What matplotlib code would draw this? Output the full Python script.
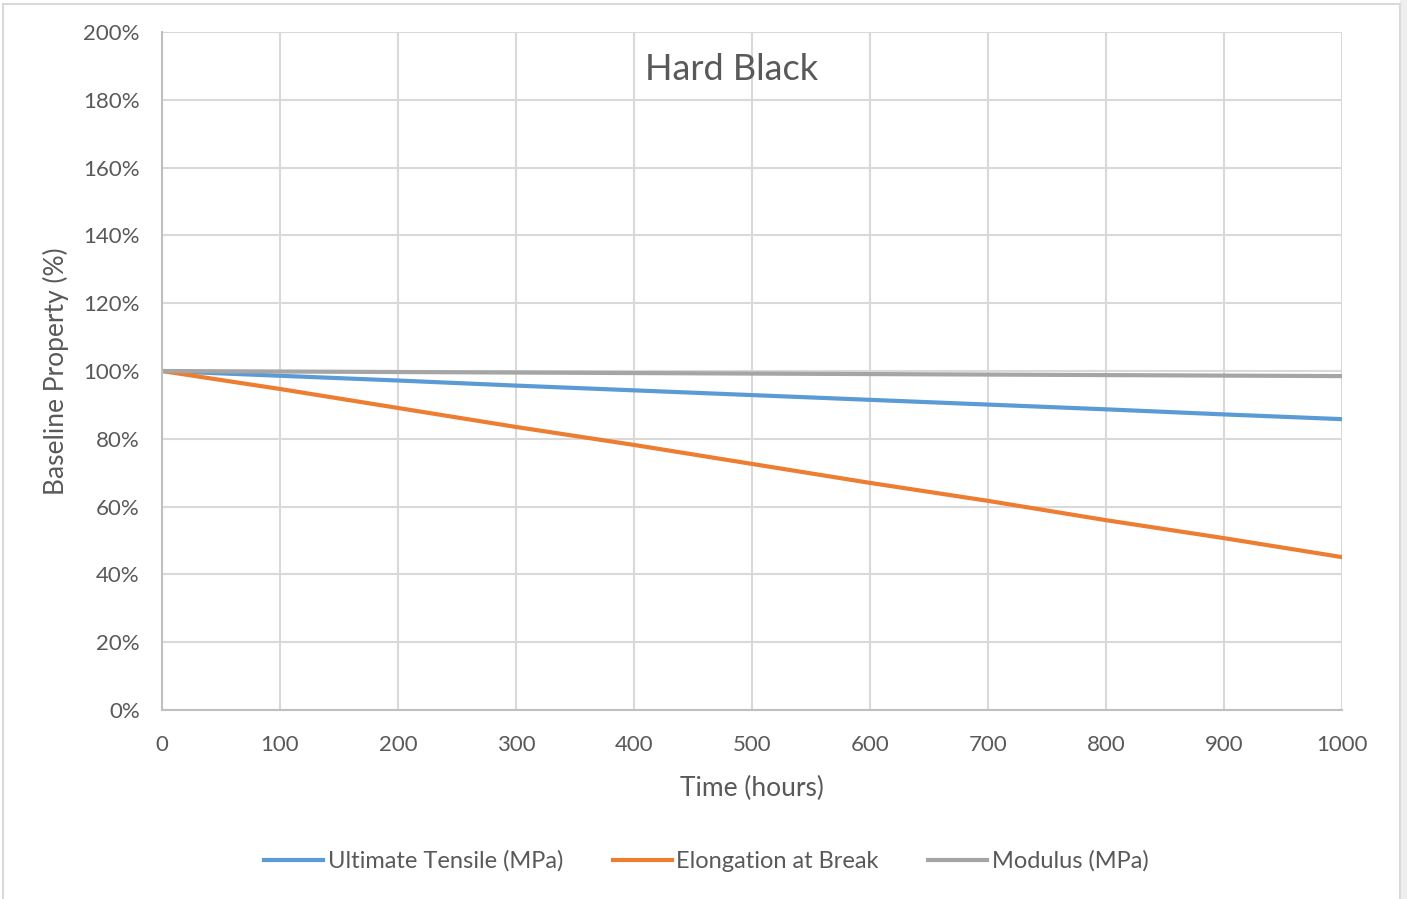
from matplotlib import pyplot as plt
from matplotlib.patches import Rectangle
from matplotlib.ticker import FuncFormatter

plt.rcParams['font.family'] = ['Lato', 'DejaVu Sans']

hours = [0, 100, 200, 300, 400, 500, 600, 700, 800, 900, 1000]
tensile = [100, 98.6, 97.2, 95.7, 94.3, 92.9, 91.5, 90.1, 88.7, 87.2, 85.8]
elongation = [100, 94.7, 89.1, 83.5, 78.2, 72.6, 67.0, 61.7, 56.0, 50.7, 45.1]
modulus = [100, 99.85, 99.7, 99.55, 99.4, 99.25, 99.1, 98.95, 98.8, 98.65, 98.5]

txt = '#595959'
grid = '#d9d9d9'

fig = plt.figure(figsize=(14.07, 8.99), dpi=100)
# chart frame
fig.patches.append(Rectangle((0.995, 0), 0.005, 1, transform=fig.transFigure,
                             facecolor='#eeeeee', edgecolor='none'))
fig.patches.append(Rectangle((0.002, -0.01), 0.993, 1.006, transform=fig.transFigure,
                             facecolor='none', edgecolor=grid, lw=1.5))

ax = fig.add_axes([0.1151, 0.2102, 0.8387, 0.7542])
ax.plot(hours, tensile, color='#5B9BD5', lw=3, label='Ultimate Tensile (MPa)')
ax.plot(hours, elongation, color='#ED7D31', lw=3, label='Elongation at Break')
ax.plot(hours, modulus, color='#A5A5A5', lw=3, label='Modulus (MPa)')

ax.set_xlim(0, 1000)
ax.set_ylim(0, 200)
ax.set_xticks(hours)
ax.set_yticks(range(0, 201, 20))
ax.yaxis.set_major_formatter(FuncFormatter(lambda v, p: f'{int(v)}%'))
ax.grid(True, color=grid, lw=1.5)
ax.set_axisbelow(True)
for s in ['top', 'right']:
    ax.spines[s].set_visible(False)
for s in ['left', 'bottom']:
    ax.spines[s].set_color('#bfbfbf')
    ax.spines[s].set_linewidth(1.5)
ax.tick_params(length=0, labelsize=16, colors=txt)
ax.tick_params(axis='x', pad=18)
ax.tick_params(axis='y', pad=16)

ax.set_xlabel('Time (hours)', fontsize=19, color=txt, labelpad=15)
ax.set_ylabel('Baseline Property (%)', fontsize=19, color=txt, labelpad=10)
ax.text(0.483, 0.944, 'Hard Black', transform=ax.transAxes, fontsize=26,
        color=txt, ha='center', va='center')

fig.legend(loc='center', bbox_to_anchor=(0.502, 0.042), ncol=3, frameon=False,
           fontsize=17, labelcolor=txt, handlelength=2.5, columnspacing=2.1,
           handletextpad=0.2)

plt.savefig('out.png')
